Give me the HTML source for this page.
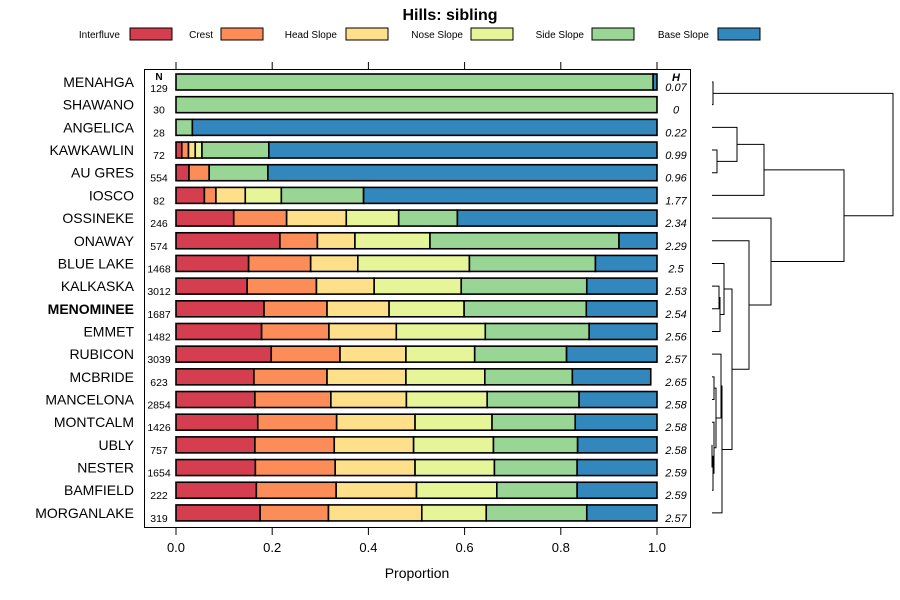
<!DOCTYPE html>
<html><head><meta charset="utf-8"><style>
html,body{margin:0;padding:0;background:#fff;}
svg{display:block;font-family:"Liberation Sans",Arial,sans-serif;}
</style></head><body>
<svg id="chart" width="900" height="600" viewBox="0 0 900 600"></svg>
<script>
const categories=["MENAHGA","SHAWANO","ANGELICA","KAWKAWLIN","AU GRES","IOSCO","OSSINEKE","ONAWAY","BLUE LAKE","KALKASKA","MENOMINEE","EMMET","RUBICON","MCBRIDE","MANCELONA","MONTCALM","UBLY","NESTER","BAMFIELD","MORGANLAKE"];
const nValues=[129,30,28,72,554,82,246,574,1468,3012,1687,1482,3039,623,2854,1426,757,1654,222,319];
const hValues=["0.07","0","0.22","0.99","0.96","1.77","2.34","2.29","2.5","2.53","2.54","2.56","2.57","2.65","2.58","2.58","2.58","2.59","2.59","2.57"];
const seriesNames=["Interfluve","Crest","Head Slope","Nose Slope","Side Slope","Base Slope"];
const seriesColors=["#d53e4f","#fc8d59","#fee08b","#e6f598","#99d594","#3288bd"];
const interfluve=[0,0,0,.012,.027,.059,.12,.216,.151,.148,.183,.178,.198,.162,.164,.17,.164,.165,.167,.175];
const crest=[0,0,0,.014,.042,.024,.11,.078,.129,.144,.131,.14,.143,.152,.158,.164,.165,.166,.166,.142];
const headSlope=[0,0,0,.014,0,.061,.124,.078,.098,.12,.129,.14,.137,.164,.157,.163,.165,.166,.167,.194];
const noseSlope=[0,0,0,.014,0,.075,.109,.156,.232,.181,.156,.185,.143,.164,.168,.16,.166,.165,.167,.134];
const sideSlope=[.992,1,.034,.139,.122,.171,.122,.393,.262,.261,.254,.216,.191,.182,.191,.173,.175,.172,.167,.209];
const baseSlope=[.008,0,.966,.807,.809,.61,.415,.079,.128,.146,.147,.141,.188,.163,.162,.17,.165,.166,.166,.146];
const xTicks=[0,0.2,0.4,0.6,0.8,1.0];
const xTickLabels=["0.0","0.2","0.4","0.6","0.8","1.0"];
// dendrogram merges: [childA, childB, height]; leaves are 0..19, internal nodes 20+
const merges=[[0,1,1],[3,4,5],[2,21,25],[5,22,52],[16,17,0],[18,24,1],[15,25,2],[13,14,2],[27,26,4],[12,28,9],[9,10,7],[30,11,8],[8,31,12],[29,19,10],[32,33,20],[7,34,37],[6,35,59],[23,36,132],[20,37,181]];

const NS="http://www.w3.org/2000/svg";
const svg=document.getElementById('chart');
function el(tag,attrs,parent){const e=document.createElementNS(NS,tag);for(const k in attrs)e.setAttribute(k,attrs[k]);(parent||svg).appendChild(e);return e;}
const X0=176,X1=657;
const xs=v=>X0+(X1-X0)*v;
const ys=i=>82+i*22.68;
const series=[interfluve,crest,headSlope,noseSlope,sideSlope,baseSlope];

// title
const t=el('text',{x:450,y:20,'text-anchor':'middle','font-size':16,'font-weight':'bold'});t.textContent="Hills: sibling";


// legend
const legX=[[120,130],[213,221],[337,346],[463,471],[584,592],[709,718]];
seriesNames.forEach((n,k)=>{
  const g=el('g',{});
  
  
  const tx=el('text',{x:legX[k][0],y:38,'text-anchor':'end','font-size':10},g);tx.textContent=n;
  el('rect',{x:legX[k][1],y:28,width:42,height:12,fill:seriesColors[k],stroke:'#000','stroke-width':1},g);
});
// panel
const panel=el('rect',{x:144.5,y:69.5,width:546,height:458,fill:'none',stroke:'#000','stroke-width':1});


// ticks
xTicks.forEach((v,k)=>{
  el('line',{x1:xs(v),x2:xs(v),y1:62,y2:69,stroke:'#000'});
  el('line',{x1:xs(v),x2:xs(v),y1:528,y2:535,stroke:'#000'});
  const tl=el('text',{x:xs(v),y:552,'text-anchor':'middle','font-size':13});tl.textContent=xTickLabels[k];
  
  
});
const xt=el('text',{x:417,y:578,'text-anchor':'middle','font-size':14});xt.textContent="Proportion";


const nh=el('text',{x:159,y:80,'text-anchor':'middle','font-size':10,'font-weight':'bold'});nh.textContent="N";
const hh=el('text',{x:676,y:81,'text-anchor':'middle','font-size':11,'font-weight':'bold','font-style':'italic'});hh.textContent="H";
// rows
categories.forEach((c,i)=>{
  const y=ys(i);
  const lab=el('text',{x:134,y:y+5,'text-anchor':'end','font-size':14,'font-weight':c==="MENOMINEE"?'bold':'normal'});lab.textContent=c;
  
  
  const nt=el('text',{x:159,y:y+(i===0?10:9),'text-anchor':'middle','font-size':10.5});nt.textContent=nValues[i];
  
  
  const ht=el('text',{x:676,y:y+9,'text-anchor':'middle','font-size':11,'font-style':'italic'});ht.textContent=hValues[i];
  
  
  let cum=0;
  series.forEach((s,k)=>{
    const v=s[i];
    if(v>0){
      const r=el('rect',{x:xs(cum),y:y-8,width:xs(cum+v)-xs(cum),height:16,fill:seriesColors[k],stroke:'#000','stroke-width':1.6});
      
      
    }
    cum+=v;
  });
});
// dendrogram
const DX0=712, DSCALE=181/181*(893-712)/181;
const nodeY={},nodeX={};
categories.forEach((c,i)=>{nodeY[i]=ys(i);nodeX[i]=DX0;});
merges.forEach((m,j)=>{
  const id=20+j,a=m[0],b=m[1],hx=DX0+m[2]*DSCALE;
  const p=el('path',{d:`M${nodeX[a]},${nodeY[a]}H${hx}V${nodeY[b]}H${nodeX[b]}`,fill:'none',stroke:'#000','stroke-width':1});
  
  
  nodeY[id]=(nodeY[a]+nodeY[b])/2;nodeX[id]=hx;
});
</script>
</body></html>
